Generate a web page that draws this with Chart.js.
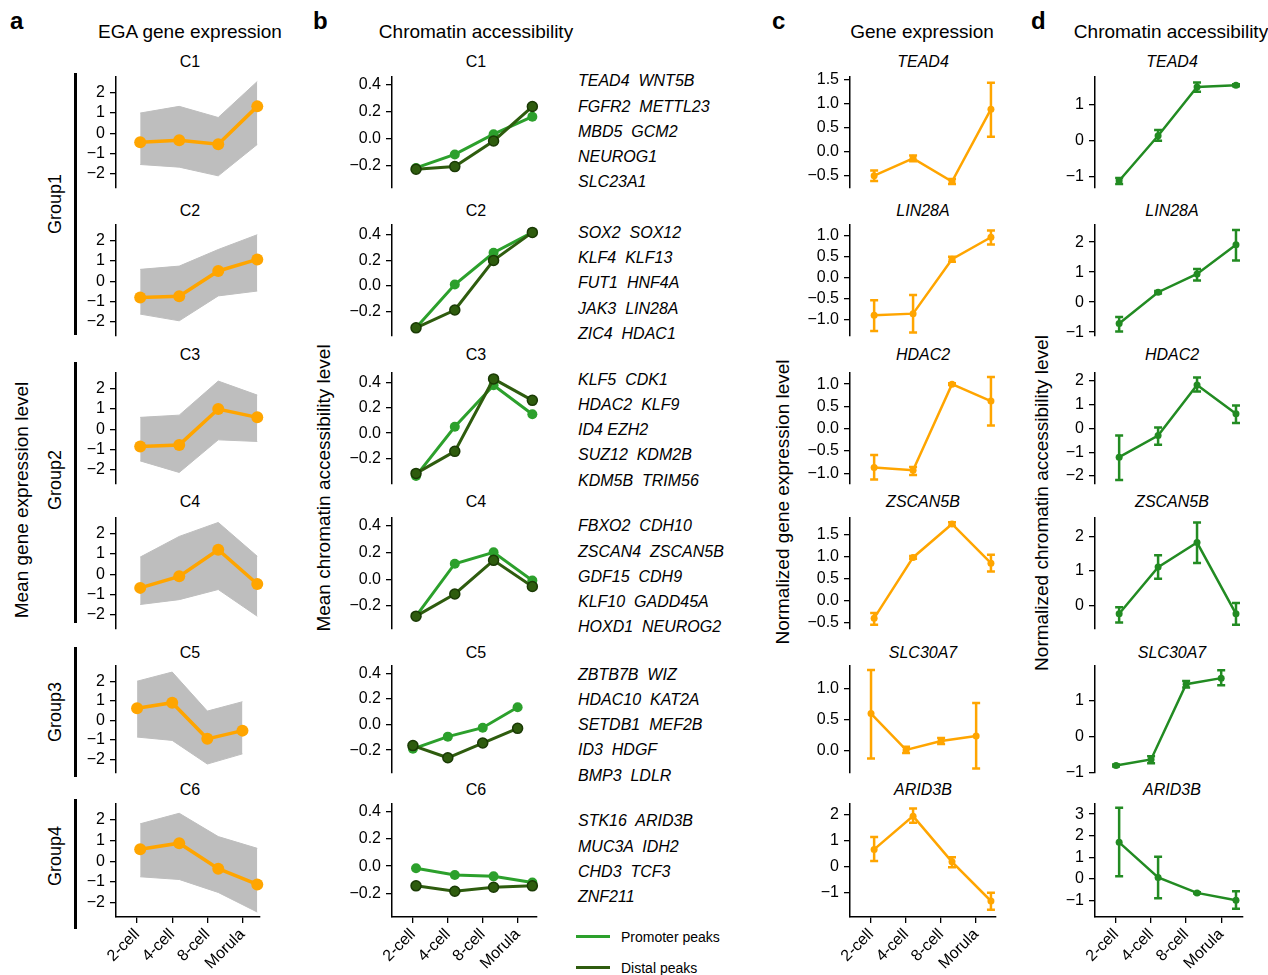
<!DOCTYPE html>
<html>
<head>
<meta charset="utf-8">
<script src="https://cdn.jsdelivr.net/npm/chart.js@4.4.0/dist/chart.umd.min.js"></script>
<style>
html, body { margin: 0; padding: 0; background: #fff; }
#fig { position: relative; width: 1268px; height: 975px; overflow: hidden; font-family: "Liberation Sans", Arial, sans-serif; color: #000; }
#fig canvas { position: absolute; }
.t { position: absolute; white-space: pre; line-height: 1; }
</style>
</head>
<body>
<div id="fig"></div>
<script>
// ---- data ----
var stages = ['2-cell', '4-cell', '8-cell', 'Morula'];
var clusters = ['C1', 'C2', 'C3', 'C4', 'C5', 'C6'];
var genes = ['TEAD4', 'LIN28A', 'HDAC2', 'ZSCAN5B', 'SLC30A7', 'ARID3B'];
var groups = ['Group1', 'Group2', 'Group3', 'Group4'];

// a: mean EGA expression per cluster, with the spread of the single genes (grey band)
var egaMean = [
    [-0.44, -0.34, -0.54, 1.33],
    [-0.80, -0.74, 0.51, 1.08],
    [-0.85, -0.77, 1.00, 0.59],
    [-0.67, -0.10, 1.21, -0.48],
    [0.62, 0.90, -0.95, -0.53],
    [0.59, 0.88, -0.36, -1.12]
];
var egaUpper = [
    [1.00, 1.33, 0.78, 2.56],
    [0.59, 0.75, 1.57, 2.30],
    [0.59, 0.70, 2.38, 1.69],
    [0.85, 1.87, 2.56, 0.89],
    [2.00, 2.47, 0.47, 0.95],
    [1.82, 2.33, 1.20, 0.63]
];
var egaLower = [
    [-1.54, -1.67, -2.10, -0.55],
    [-1.62, -1.95, -0.72, -0.48],
    [-1.56, -2.13, -0.52, -0.60],
    [-1.49, -1.25, -0.75, -2.07],
    [-0.86, -1.03, -2.24, -1.72],
    [-0.75, -0.88, -1.51, -2.46]
];

// b: mean chromatin accessibility
var promoterPeaks = [
    [-0.22, -0.12, 0.03, 0.16],
    [-0.33, 0.01, 0.26, 0.42],
    [-0.34, 0.05, 0.38, 0.15],
    [-0.275, 0.115, 0.20, -0.01],
    [-0.19, -0.095, -0.025, 0.135],
    [-0.015, -0.065, -0.075, -0.12]
];
var distalPeaks = [
    [-0.23, -0.21, -0.02, 0.235],
    [-0.33, -0.19, 0.20, 0.42],
    [-0.32, -0.145, 0.43, 0.26],
    [-0.275, -0.11, 0.14, -0.055],
    [-0.165, -0.26, -0.145, -0.03],
    [-0.145, -0.185, -0.155, -0.145]
];
var geneLists = [
    ['TEAD4  WNT5B', 'FGFR2  METTL23', 'MBD5  GCM2', 'NEUROG1', 'SLC23A1'],
    ['SOX2  SOX12', 'KLF4  KLF13', 'FUT1  HNF4A', 'JAK3  LIN28A', 'ZIC4  HDAC1'],
    ['KLF5  CDK1', 'HDAC2  KLF9', 'ID4 EZH2', 'SUZ12  KDM2B', 'KDM5B  TRIM56'],
    ['FBXO2  CDH10', 'ZSCAN4  ZSCAN5B', 'GDF15  CDH9', 'KLF10  GADD45A', 'HOXD1  NEUROG2'],
    ['ZBTB7B  WIZ', 'HDAC10  KAT2A', 'SETDB1  MEF2B', 'ID3  HDGF', 'BMP3  LDLR'],
    ['STK16  ARID3B', 'MUC3A  IDH2', 'CHD3  TCF3', 'ZNF211']
];

// c: normalized gene expression (mean, error bar low/high)
var exprMean = [
    [-0.50, -0.14, -0.62, 0.88],
    [-0.89, -0.85, 0.44, 0.96],
    [-0.87, -0.93, 1.00, 0.62],
    [-0.39, 0.99, 1.75, 0.86],
    [0.60, 0.016, 0.16, 0.24],
    [0.66, 1.95, 0.18, -1.34]
];
var exprLow = [
    [-0.61, -0.20, -0.67, 0.31],
    [-1.26, -1.30, 0.38, 0.79],
    [-1.14, -1.04, 0.98, 0.075],
    [-0.54, 0.96, 1.71, 0.67],
    [-0.12, -0.034, 0.11, -0.28],
    [0.21, 1.69, -0.03, -1.68]
];
var exprHigh = [
    [-0.39, -0.08, -0.57, 1.43],
    [-0.53, -0.41, 0.50, 1.12],
    [-0.59, -0.86, 1.02, 1.16],
    [-0.27, 1.02, 1.79, 1.05],
    [1.30, 0.066, 0.21, 0.77],
    [1.14, 2.25, 0.36, -1.02]
];

// d: normalized chromatin accessibility (mean, error bar low/high)
var accMean = [
    [-1.11, 0.14, 1.49, 1.54],
    [-0.71, 0.33, 0.94, 1.91],
    [-1.21, -0.30, 1.83, 0.62],
    [-0.24, 1.11, 1.82, -0.24],
    [-0.81, -0.64, 1.47, 1.64],
    [1.69, 0.06, -0.66, -1.00]
];
var accLow = [
    [-1.20, 0.00, 1.36, 1.51],
    [-0.98, 0.29, 0.72, 1.39],
    [-2.17, -0.69, 1.56, 0.23],
    [-0.49, 0.77, 1.23, -0.56],
    [-0.84, -0.75, 1.38, 1.44],
    [0.11, -0.91, -0.69, -1.40]
];
var accHigh = [
    [-1.03, 0.30, 1.62, 1.57],
    [-0.50, 0.37, 1.10, 2.40],
    [-0.30, 0.04, 2.15, 0.97],
    [-0.05, 1.45, 2.40, 0.07],
    [-0.78, -0.55, 1.56, 1.86],
    [3.29, 1.02, -0.63, -0.58]
];

// axis ranges and tick values
var egaRange = [-2.7, 2.78];
var egaTicks = [-2, -1, 0, 1, 2];
var peakRanges = [[-0.365, 0.454], [-0.39, 0.478], [-0.40, 0.477], [-0.367, 0.455], [-0.375, 0.457], [-0.374, 0.457]];
var peakTicks = [-0.2, 0, 0.2, 0.4];
var exprRanges = [[-0.755, 1.548], [-1.38, 1.25], [-1.24, 1.25], [-0.636, 1.886], [-0.354, 1.365], [-1.96, 2.42]];
var exprTicks = [[-0.5, 0, 0.5, 1, 1.5], [-1, -0.5, 0, 0.5, 1], [-1, -0.5, 0, 0.5, 1], [-0.5, 0, 0.5, 1, 1.5], [0, 0.5, 1], [-1, 0, 1, 2]];
var exprDigits = [1, 1, 1, 1, 1, 0];
var accRanges = [[-1.31, 1.77], [-1.13, 2.57], [-2.34, 2.34], [-0.68, 2.53], [-1.02, 1.98], [-1.78, 3.47]];
var accTicks = [[-1, 0, 1], [-1, 0, 1, 2], [-2, -1, 0, 1, 2], [0, 1, 2], [-1, 0, 1], [-1, 0, 1, 2, 3]];

// x axis: ticks sit slightly left of the points, except in row 5
var stageX = [0, 1, 2, 3];
var tickPos = [-0.08, 0.82, 1.72, 2.62];

// ---- layout ----
var ORANGE = '#FFA500', GRAY = '#BEBEBE', GREEN = '#228B22', PROM = '#2CA02C', DIST = '#2E5C0E';
var rowTop = [77, 225, 373, 518, 666, 804];
var rowBottom = [188, 336, 484, 629, 773, 917];
var titleBase = [68, 217, 361, 508, 659, 796];
var listBase = [87, 238.6, 385.3, 532, 680.3, 827];
var YW = 60, XH = 62, PADTOP = 10, PADRIGHT = 12, PADBOT = 6, XMIN = -0.62;
var cols = {
    a: {left: 116, right: 260, xMax: 3.07, title: 190},
    b: {left: 392, right: 537, xMax: 3.12, title: 476},
    c: {left: 850, right: 996, xMax: 3.13, title: 923},
    d: {left: 1095, right: 1243, xMax: 3.18, title: 1172}
};

Chart.defaults.font.family = '"Liberation Sans", Arial, sans-serif';
Chart.defaults.font.size = 16;
Chart.defaults.color = '#000';

var fig = document.getElementById('fig');

// error bars drawn from dataset.errLow / errHigh through the y scale
Chart.register({
    id: 'errorBars',
    afterDatasetsDraw: function (chart) {
        var ds = chart.data.datasets[0];
        if (!ds.errLow) return;
        var ctx = chart.ctx, ys = chart.scales.y, meta = chart.getDatasetMeta(0);
        ctx.save();
        ctx.strokeStyle = ds.borderColor;
        ctx.lineWidth = 2.5;
        for (var i = 0; i < ds.errLow.length; i++) {
            var px = meta.data[i].x;
            var y1 = ys.getPixelForValue(ds.errLow[i]);
            var y2 = ys.getPixelForValue(ds.errHigh[i]);
            ctx.beginPath();
            ctx.moveTo(px, y1); ctx.lineTo(px, y2);
            ctx.moveTo(px - 4, y1); ctx.lineTo(px + 4, y1);
            ctx.moveTo(px - 4, y2); ctx.lineTo(px + 4, y2);
            ctx.stroke();
        }
        ctx.restore();
    }
});

function fmt(v, digits) {
    var s = Math.abs(v).toFixed(digits);
    return (v < -1e-9 ? '\u2212' : '') + s;
}

function pts(vals, r) {
    var xs = r === 4 ? tickPos : stageX;
    return vals.map(function (v, i) { return {x: xs[i], y: v}; });
}

function yScale(range, ticks, digits) {
    return {
        type: 'linear', min: range[0], max: range[1],
        afterBuildTicks: function (s) { s.ticks = ticks.map(function (v) { return {value: v}; }); },
        afterFit: function (s) { s.width = YW; s.paddingTop = 0; s.paddingBottom = 0; },
        grid: {drawOnChartArea: false, drawTicks: true, tickLength: 6, color: '#000', lineWidth: 1.3},
        border: {display: true, color: '#000', width: 1.5},
        ticks: {padding: 5, font: {size: 16}, callback: function (v) { return fmt(v, digits); }}
    };
}

function xScale(col, bottom) {
    return {
        type: 'linear', min: XMIN, max: col.xMax, display: bottom,
        afterBuildTicks: function (s) { s.ticks = tickPos.map(function (v) { return {value: v}; }); },
        afterFit: function (s) { if (bottom) s.height = XH; s.paddingLeft = 0; s.paddingRight = 0; },
        grid: {drawOnChartArea: false, drawTicks: true, tickLength: 6, color: '#000', lineWidth: 1.3},
        border: {display: true, color: '#000', width: 1.5},
        ticks: {autoSkip: false, minRotation: 45, maxRotation: 45, padding: 2, font: {size: 16},
            callback: function (v, i) { return stages[i]; }}
    };
}

function makeChart(col, r, datasets, yOpts) {
    var bottom = r === 5;
    var w = YW + (col.right - col.left) + PADRIGHT;
    var h = PADTOP + (rowBottom[r] - rowTop[r]) + (bottom ? XH : PADBOT);
    var cv = document.createElement('canvas');
    cv.width = w; cv.height = h;
    cv.style.left = (col.left - YW) + 'px';
    cv.style.top = (rowTop[r] - PADTOP) + 'px';
    cv.style.width = w + 'px'; cv.style.height = h + 'px';
    fig.appendChild(cv);
    new Chart(cv, {
        type: 'line',
        data: {datasets: datasets},
        options: {
            responsive: false, animation: false, events: [],
            layout: {padding: {top: PADTOP, right: PADRIGHT, bottom: bottom ? 0 : PADBOT, left: 0}},
            plugins: {legend: {display: false}, tooltip: {enabled: false}},
            scales: {x: xScale(col, bottom), y: yOpts}
        }
    });
}

function addText(str, x, base, size, opt) {
    opt = opt || {};
    var d = document.createElement('div');
    d.className = 't';
    d.textContent = str;
    d.style.fontSize = size + 'px';
    if (opt.bold) d.style.fontWeight = 'bold';
    if (opt.italic) d.style.fontStyle = 'italic';
    d.style.left = x + 'px';
    d.style.top = (base - 0.846 * size) + 'px';
    if (opt.center) d.style.transform = 'translateX(-50%)';
    fig.appendChild(d);
}

function addVText(str, cx, cy, size) {
    var d = document.createElement('div');
    d.className = 't';
    d.textContent = str;
    d.style.fontSize = size + 'px';
    d.style.left = cx + 'px';
    d.style.top = cy + 'px';
    d.style.transform = 'translate(-50%,-50%) rotate(-90deg)';
    fig.appendChild(d);
}

function addBox(x, y, w, h, color) {
    var d = document.createElement('div');
    d.style.position = 'absolute';
    d.style.left = x + 'px'; d.style.top = y + 'px';
    d.style.width = w + 'px'; d.style.height = h + 'px';
    d.style.background = color;
    fig.appendChild(d);
}

// ---- headers ----
addText('a', 10, 29, 24, {bold: true});
addText('b', 313, 29, 24, {bold: true});
addText('c', 772, 29, 24, {bold: true});
addText('d', 1031, 29, 24, {bold: true});
addText('EGA gene expression', cols.a.title, 38, 19, {center: true});
addText('Chromatin accessibility', cols.b.title, 38, 19, {center: true});
addText('Gene expression', 922, 38, 19, {center: true});
addText('Chromatin accessibility', 1171, 38, 19, {center: true});

addVText('Mean gene expression level', 21, 500, 19);
addVText('Mean chromatin accessibility level', 323, 488, 19);
addVText('Normalized gene expression level', 782, 502, 19);
addVText('Normalized chromatin accessibility level', 1041, 503, 19);

// group brackets of panel a
var groupSpan = [[73, 335], [362, 623], [647, 777], [799, 929]];
var groupMid = [204, 480, 712, 856];
groupSpan.forEach(function (g, i) {
    addBox(74, g[0], 3, g[1] - g[0], '#000');
    addVText(groups[i], 55, groupMid[i], 18);
});

// ---- charts ----
for (var r = 0; r < 6; r++) {
    // a
    addText(clusters[r], cols.a.title, titleBase[r], 16, {center: true});
    makeChart(cols.a, r, [
        {data: pts(egaMean[r], r), borderColor: ORANGE, backgroundColor: ORANGE, borderWidth: 3.5,
            pointRadius: 6, pointBorderWidth: 0, order: 0, clip: false},
        {data: pts(egaUpper[r], r), borderColor: GRAY, borderWidth: 1, pointRadius: 0, fill: false, order: 1, clip: false},
        {data: pts(egaLower[r], r), borderColor: GRAY, backgroundColor: GRAY, borderWidth: 1, pointRadius: 0,
            fill: '-1', order: 1, clip: false}
    ], yScale(egaRange, egaTicks, 0));

    // b
    addText(clusters[r], cols.b.title, titleBase[r], 16, {center: true});
    makeChart(cols.b, r, [
        {data: pts(distalPeaks[r], r), borderColor: DIST, backgroundColor: DIST, borderWidth: 3,
            pointRadius: 5, pointBorderColor: '#1A3A05', pointBorderWidth: 1.5, clip: false},
        {data: pts(promoterPeaks[r], r), borderColor: PROM, backgroundColor: PROM, borderWidth: 3,
            pointRadius: 5, pointBorderWidth: 0, clip: false}
    ], yScale(peakRanges[r], peakTicks, 1));
    geneLists[r].forEach(function (g, k) {
        addText(g, 578, listBase[r] + k * 25.2, 16, {italic: true});
    });

    // c
    addText(genes[r], cols.c.title, titleBase[r], 16, {center: true, italic: true});
    makeChart(cols.c, r, [
        {data: pts(exprMean[r], r), errLow: exprLow[r], errHigh: exprHigh[r], borderColor: ORANGE,
            backgroundColor: ORANGE, borderWidth: 2.5, pointRadius: 3.5, pointBorderWidth: 0, clip: false}
    ], yScale(exprRanges[r], exprTicks[r], exprDigits[r]));

    // d
    addText(genes[r], cols.d.title, titleBase[r], 16, {center: true, italic: true});
    makeChart(cols.d, r, [
        {data: pts(accMean[r], r), errLow: accLow[r], errHigh: accHigh[r], borderColor: GREEN,
            backgroundColor: GREEN, borderWidth: 2.5, pointRadius: 3.5, pointBorderWidth: 0, clip: false}
    ], yScale(accRanges[r], accTicks[r], 0));
}

// legend of panel b
addBox(576, 934.5, 34, 3, PROM);
addText('Promoter peaks', 621, 941.5, 14);
addBox(576, 966, 34, 3, DIST);
addText('Distal peaks', 621, 973, 14);
</script>
</body>
</html>
